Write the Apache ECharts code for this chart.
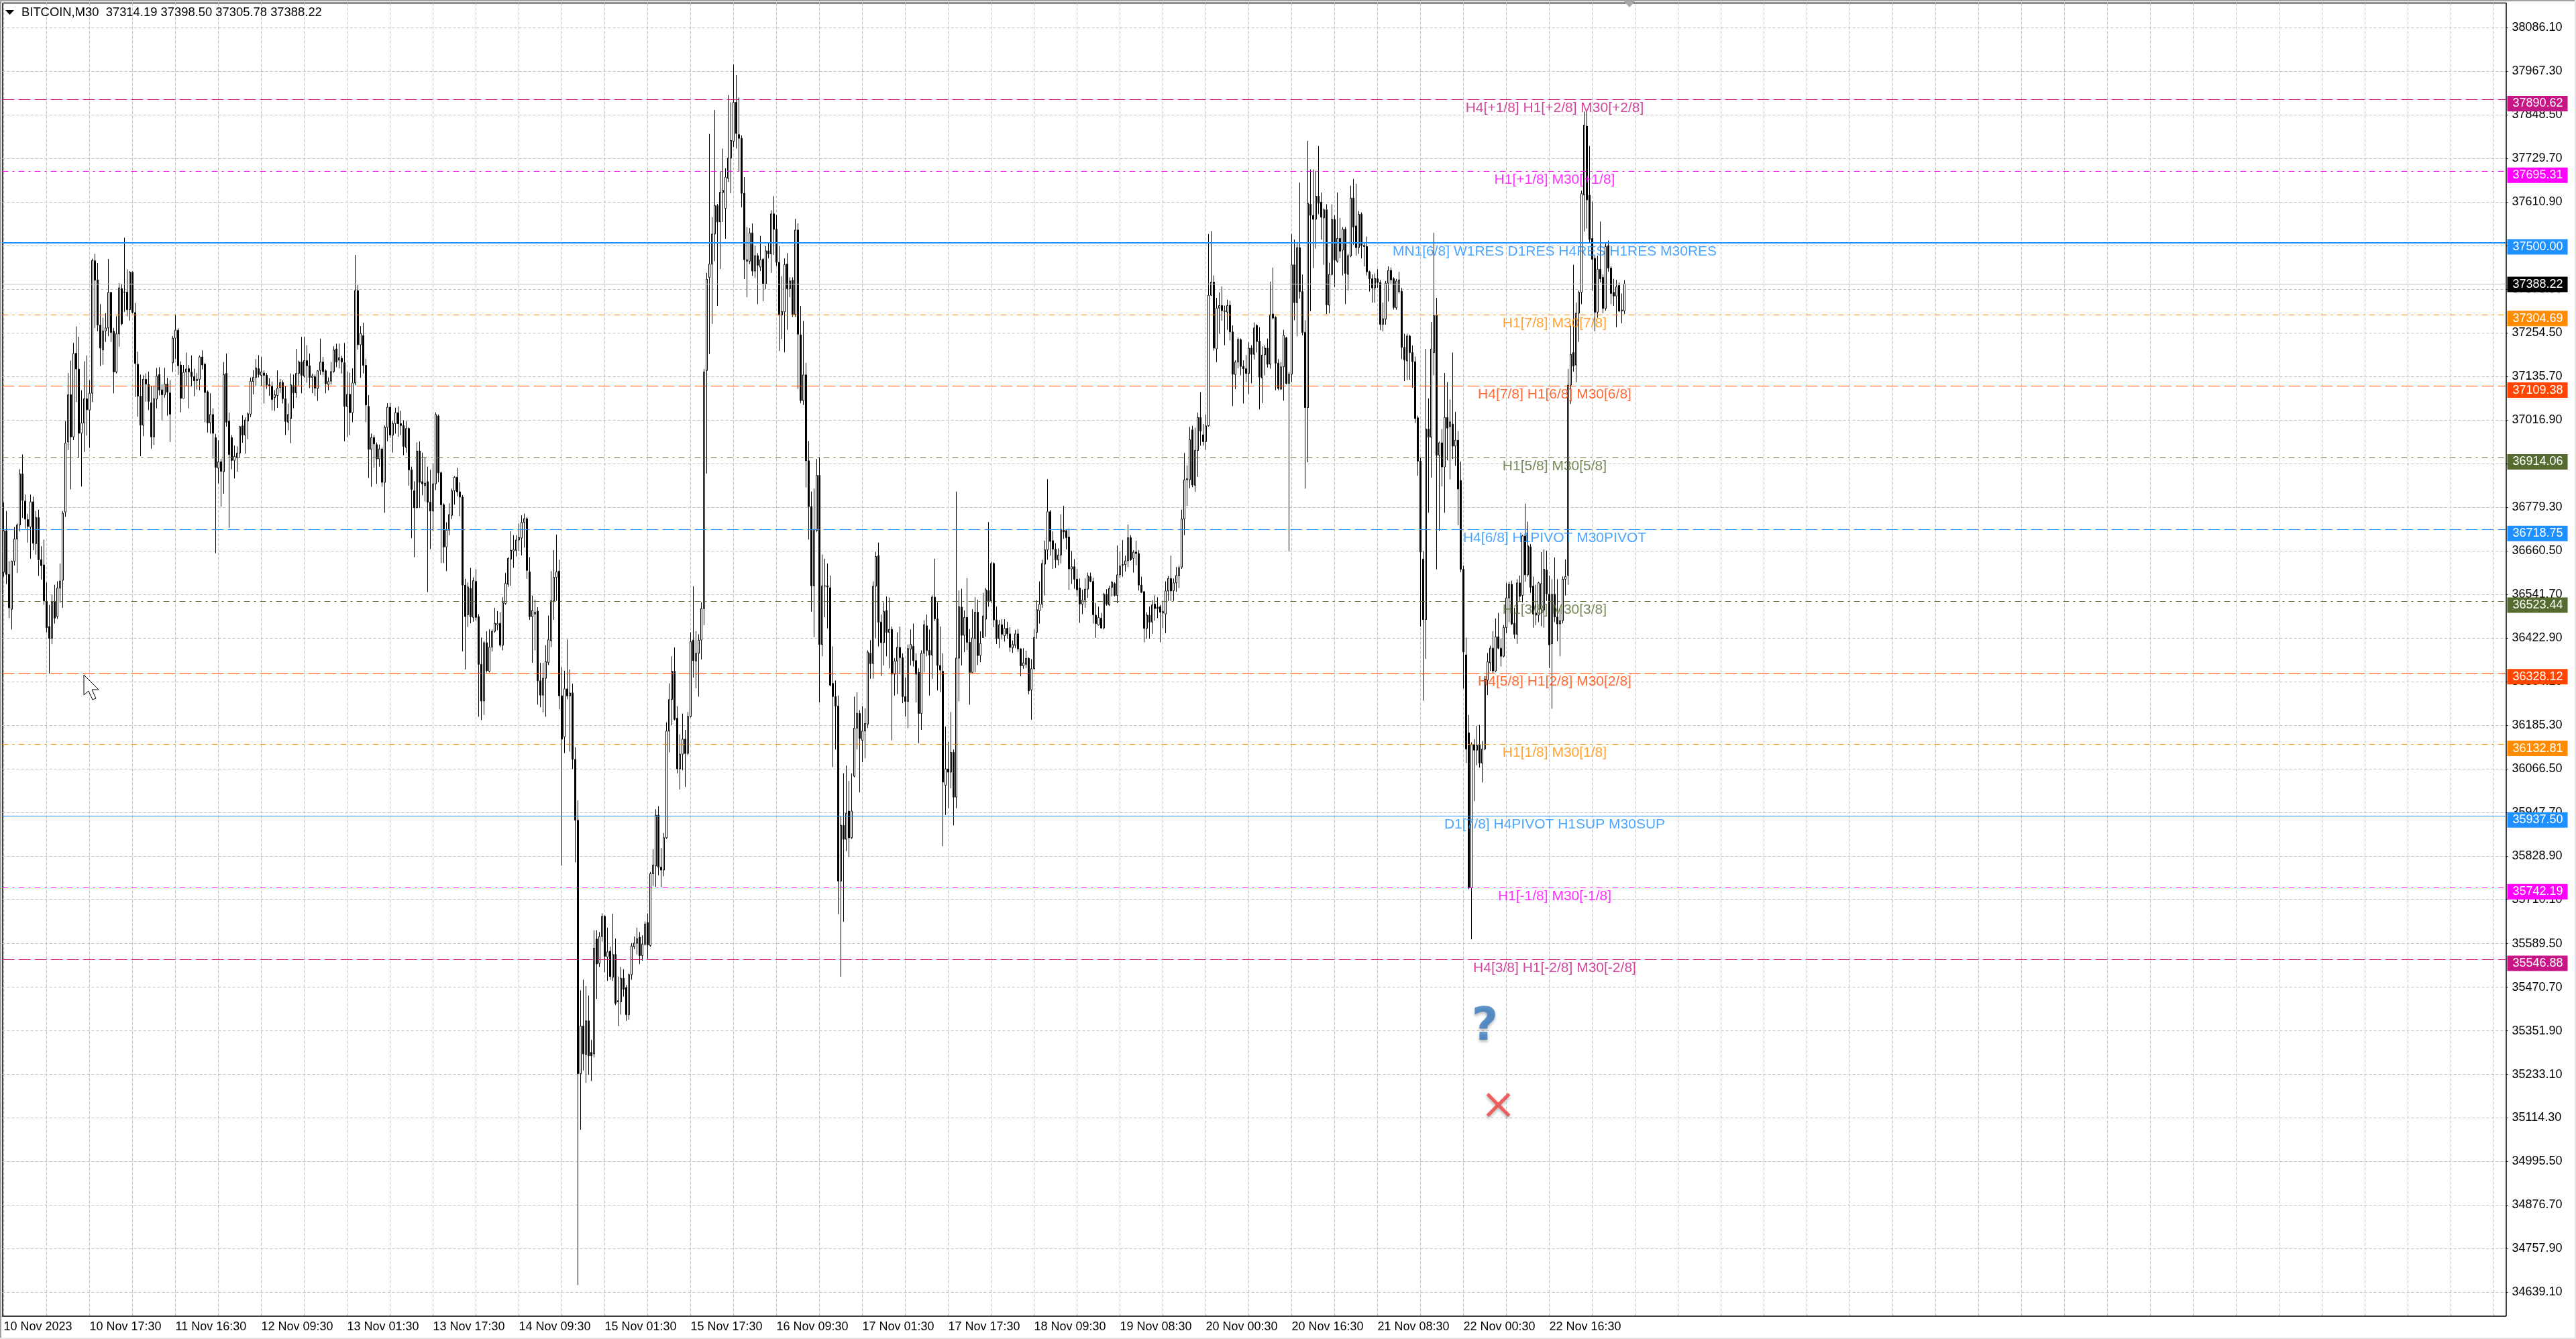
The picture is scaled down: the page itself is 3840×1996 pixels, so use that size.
<!DOCTYPE html>
<html>
<head>
<meta charset="utf-8">
<title>BITCOIN,M30</title>
<script src="https://cdn.jsdelivr.net/npm/echarts@6/dist/echarts.min.js"></script>
<style>
	html,body{margin:0;padding:0;background:#fff;}
	#main{width:3840px;height:1996px;}
</style>
</head>
<body>
<div id="main"></div>
<script>
// 30 minute bars
var opens = [
36602,36715,36596,36501,36632,36693,36731,36870,36796,36746,36725,36794,36680,36751,36636,36622,36523,36454,36422,36523,
36481,36559,36580,36766,36957,37086,36971,37199,37156,36981,37009,37075,37044,37090,37451,37399,37276,37208,37260,37268,
37365,37259,37148,37252,37375,37366,37366,37318,37420,37310,37169,37082,37003,37128,37114,37064,36971,37074,37141,37099,
37086,37115,37091,37173,37240,37262,37167,37076,37148,37157,37148,37135,37124,37128,37189,37169,37094,37009,37032,36969,
36886,36903,36876,37144,37014,36969,36907,36914,36927,37001,36976,37014,37033,37122,37133,37157,37139,37145,37139,37113,
37110,37078,37084,37106,37119,37075,37011,37021,37111,37091,37144,37175,37137,37179,37165,37133,37135,37103,37152,37175,
37151,37114,37123,37149,37211,37180,37185,37173,37054,37087,37037,37118,37370,37222,37247,37166,37054,36937,36969,36950,
36911,36938,36847,36997,37052,36976,37007,37037,37007,37002,36942,36994,36881,36824,36778,36933,36849,36838,36849,36793,
36769,36843,37028,36873,36786,36671,36717,36757,36824,36861,36821,36807,36567,36486,36558,36479,36577,36481,36351,36251,
36410,36332,36398,36441,36458,36463,36403,36517,36569,36638,36660,36662,36690,36695,36738,36748,36603,36481,36488,36496,
36306,36267,36313,36356,36415,36524,36588,36605,36265,36153,36284,36265,36273,36092,35926,35235,35365,35287,35379,35293,
35289,35602,35536,35609,35664,35553,35569,35498,35560,35431,35431,35495,35470,35396,35505,35581,35591,35607,35557,35588,
35647,35584,35780,35801,35940,35798,35790,35878,36169,36255,36332,36204,36066,36106,36147,36108,36209,36417,36360,36381,
36417,36503,37152,37406,37442,37524,37601,37557,37637,37594,37676,37731,37777,37883,37795,37785,37635,37450,37450,37527,
37423,37465,37434,37455,37388,37478,37470,37579,37537,37447,37303,37312,37442,37375,37398,37305,37535,37249,37070,37140,
36906,36781,36565,36716,36866,36405,36564,36565,36560,36299,36263,36237,35760,35912,35874,35951,35878,36046,36177,36217,
36144,36169,36188,36381,36353,36564,36647,36466,36410,36498,36438,36446,36324,36360,36397,36369,36263,36250,36392,36400,
36361,36329,36217,36381,36456,36389,36376,36534,36475,36348,36332,36021,36066,36057,36111,35989,36368,36507,36430,36479,
36411,36329,36421,36493,36375,36424,36474,36552,36524,36626,36472,36421,36459,36429,36449,36434,36396,36403,36434,36393,
36347,36351,36367,36281,36339,36438,36497,36515,36624,36663,36767,36688,36665,36636,36649,36717,36715,36698,36611,36617,
36583,36559,36515,36526,36556,36590,36577,36485,36458,36477,36450,36542,36513,36561,36571,36539,36595,36621,36623,36633,
36696,36640,36657,36653,36567,36549,36449,36485,36466,36515,36507,36508,36491,36488,36551,36585,36552,36573,36592,36616,
36747,36854,36854,36990,36839,36934,37024,36977,36958,37001,37357,37393,37211,37322,37329,37314,37311,37330,37257,37141,
37175,37236,37163,37157,37144,37213,37196,37275,37232,37132,37195,37213,37169,37306,37297,37172,37101,37162,37241,37117,
37142,37440,37337,37487,37367,37256,37051,37605,37575,37564,37627,37611,37568,37590,37330,37414,37564,37450,37512,37480,
37537,37414,37464,37622,37546,37487,37578,37490,37490,37421,37402,37377,37402,37392,37278,37292,37390,37425,37402,37323,
37367,37368,37215,37178,37246,37201,37176,37023,36905,36638,36473,36992,36970,37201,37302,36921,36955,36889,37024,36999,
37006,36946,36962,36852,36610,36377,36164,35742,36132,36117,36132,36082,36120,36308,36355,36395,36333,36426,36395,36373,
36451,36532,36569,36463,36433,36573,36539,36701,36595,36671,36564,36485,36485,36502,36499,36608,36542,36407,36542,36480,
36461,36470,36583,36593,37112,37201,37167,37308,37365,37631,37818,37630,37512,37458,37311,37428,37406,37321,37492,37431,
37365,37355,37384,37314,37314.19
];
var closes = [
36715,36596,36505,36632,36693,36731,36870,36798,36747,36727,36794,36681,36751,36636,36620,36524,36451,36422,36521,36477,
36559,36578,36763,36954,37086,36971,37198,37156,36981,37009,37075,37045,37090,37452,37398,37276,37213,37260,37268,37365,
37256,37148,37252,37377,37279,37365,37318,37420,37310,37171,37082,37003,37128,37115,37068,36971,37075,37137,37099,37086,
37115,37093,37033,37240,37262,37165,37076,37147,37156,37148,37135,37124,37128,37189,37167,37092,37009,37032,36981,36888,
36903,36877,37141,37011,36923,36907,36918,36927,36999,36976,37017,37034,37123,37133,37159,37141,37148,37139,37113,37110,
37073,37086,37104,37119,37075,37013,37032,37113,37091,37144,37175,37139,37179,37165,37133,37137,37104,37151,37175,37149,
37116,37122,37149,37208,37175,37187,37175,37054,37087,37037,37118,37370,37222,37253,37166,37058,36937,36969,36952,36911,
36938,36847,36997,37052,36976,37007,37037,37007,37002,36945,36994,36881,36828,36778,36933,36847,36843,36845,36793,36769,
36843,37032,36873,36786,36671,36717,36759,36824,36861,36821,36807,36567,36481,36562,36481,36579,36479,36351,36251,36410,
36334,36398,36441,36463,36462,36403,36519,36572,36640,36662,36664,36690,36697,36738,36748,36607,36481,36498,36493,36306,
36267,36313,36358,36418,36524,36588,36603,36265,36147,36284,36265,36273,36092,35926,35235,35365,35289,35379,35284,35284,
35577,35534,35609,35664,35555,35567,35500,35560,35427,35434,35495,35465,35396,35505,35583,35591,35603,35557,35588,35643,
35586,35780,35804,35940,35798,35790,35878,36169,36255,36332,36201,36066,36106,36147,36108,36209,36413,36361,36381,36417,
36503,37148,37401,37442,37524,37602,37557,37638,37643,37679,37731,37779,37883,37798,37785,37635,37454,37454,37527,37423,
37465,37439,37454,37388,37478,37470,37579,37537,37447,37303,37313,37441,37375,37396,37305,37535,37251,37070,37140,36906,
36781,36565,36716,36866,36405,36565,36565,36562,36294,36263,36237,35760,35912,35874,35945,35878,35951,36177,36217,36149,
36169,36190,36384,36353,36564,36645,36466,36410,36495,36438,36446,36324,36360,36397,36369,36263,36250,36394,36405,36361,
36324,36217,36381,36459,36389,36376,36534,36475,36348,36335,36030,36066,36057,36111,35989,36368,36508,36430,36479,36411,
36329,36423,36493,36375,36408,36483,36554,36524,36626,36472,36421,36459,36433,36449,36434,36397,36405,36434,36393,36347,
36355,36367,36279,36339,36424,36500,36515,36626,36663,36767,36686,36665,36636,36649,36719,36712,36696,36611,36617,36583,
36554,36515,36526,36556,36592,36577,36486,36462,36479,36450,36542,36515,36558,36575,36539,36595,36619,36623,36633,36696,
36636,36657,36653,36567,36547,36449,36485,36466,36513,36503,36503,36493,36495,36551,36585,36551,36573,36593,36614,36747,
36854,36857,36963,36840,36934,37024,36987,36958,37001,37357,37393,37213,37322,37329,37315,37313,37329,37257,37142,37175,
37237,37163,37157,37144,37213,37196,37268,37231,37134,37194,37213,37169,37304,37295,37172,37103,37162,37248,37117,37142,
37440,37337,37487,37367,37256,37051,37608,37575,37564,37627,37608,37570,37590,37331,37414,37564,37453,37512,37477,37537,
37417,37465,37622,37543,37487,37578,37493,37493,37421,37402,37377,37403,37392,37278,37293,37390,37425,37399,37324,37396,
37399,37215,37181,37246,37201,37176,37021,36905,36657,36473,36992,36970,37211,37302,36921,36955,36889,37024,36995,37012,
36946,36962,36829,36610,36385,36120,35742,36132,36117,36130,36082,36120,36311,36358,36395,36333,36426,36395,36373,36451,
36532,36569,36461,36433,36573,36536,36701,36595,36674,36561,36488,36491,36573,36571,36610,36543,36404,36542,36480,36461,
36470,36583,36590,37112,37196,37164,37308,37365,37634,37821,37617,37509,37455,37311,37428,37402,37321,37490,37431,37362,
37355,37380,37314,37317,37388.22
];
var lows = [
36590,36570,36477,36446,36620,36600,36713,36750,36721,36683,36639,36662,36650,36592,36582,36513,36438,36326,36406,36462,
36475,36519,36505,36753,36935,36828,36962,37066,36914,36836,36930,36975,36941,37066,37268,37259,37164,37168,37230,37246,
37230,37090,37144,37217,37275,37312,37300,37288,37308,37080,37026,36918,36973,37067,37044,36939,36949,37049,37084,37016,
37078,37029,36957,37148,37183,37140,37038,37076,37110,37049,37108,37082,37100,37098,37155,37011,36983,36980,36917,36654,
36844,36781,36816,36999,36723,36883,36858,36876,36914,36955,36925,36965,37025,37087,37111,37133,37110,37062,37102,37083,
37043,37042,37050,37091,37062,36976,36989,36954,37049,37078,37111,37090,37132,37119,37104,37090,37083,37069,37140,37139,
37090,37098,37114,37146,37161,37158,37144,36959,36971,36976,37011,37112,37209,37132,37144,37011,36859,36835,36887,36843,
36890,36835,36764,36959,36968,36928,36980,36971,36976,36921,36928,36838,36695,36643,36776,36778,36812,36795,36548,36665,
36714,36826,36847,36627,36627,36605,36703,36747,36786,36809,36755,36386,36337,36453,36463,36467,36470,36208,36199,36213,
36329,36329,36386,36437,36444,36398,36389,36514,36562,36565,36614,36645,36660,36648,36669,36584,36472,36355,36389,36241,
36234,36220,36208,36349,36398,36472,36524,36229,35802,36109,36256,36113,36066,35811,34659,35082,35244,35210,35232,35215,
35279,35439,35526,35595,35512,35488,35491,35488,35422,35365,35396,35445,35379,35382,35491,35574,35560,35534,35543,35584,
35548,35581,35747,35744,35776,35744,35773,35875,36111,36185,36198,36054,36010,36062,36017,36103,36206,36315,36286,36263,
36364,36458,36871,37197,37279,37450,37328,37429,37557,37511,37666,37635,37761,37757,37695,37597,37401,37352,37442,37410,
37405,37333,37423,37341,37374,37458,37418,37467,37437,37205,37238,37202,37263,37352,37298,37298,37102,37063,37058,36833,
36691,36495,36425,36712,36247,36373,36479,36449,36291,36071,36119,35670,35499,35649,35842,35826,35875,36043,36119,36002,
36084,36095,36177,36312,36312,36422,36400,36319,36348,36373,36340,36144,36266,36270,36324,36245,36209,36177,36348,36345,
36247,36136,36172,36329,36373,36266,36311,36469,36280,36275,35855,35940,35959,36013,35912,35959,36250,36348,36384,36390,
36241,36327,36329,36349,36357,36423,36426,36508,36518,36452,36406,36395,36419,36413,36421,36385,36382,36395,36385,36318,
36339,36341,36269,36200,36337,36421,36462,36505,36539,36636,36647,36611,36613,36621,36626,36693,36664,36554,36570,36557,
36537,36464,36488,36505,36532,36575,36462,36423,36457,36448,36446,36511,36510,36536,36536,36518,36587,36590,36604,36616,
36633,36601,36621,36552,36546,36411,36421,36421,36434,36470,36477,36411,36450,36436,36524,36524,36524,36549,36559,36611,
36703,36783,36831,36834,36821,36862,36947,36947,36936,36999,37355,37206,37175,37252,37288,37221,37263,37234,37055,37101,
37158,37139,37062,37121,37088,37117,37182,37201,37046,37063,37139,37160,37157,37291,37098,37098,37100,37070,37114,36659,
37120,37289,37245,37348,37248,36830,36902,37314,37431,37484,37578,37509,37440,37306,37308,37411,37380,37446,37458,37411,
37333,37370,37461,37495,37465,37470,37458,37436,37411,37367,37337,37337,37377,37262,37259,37277,37340,37389,37318,37318,
37362,37183,37123,37127,37127,37105,37009,36865,36454,36252,36366,36764,36860,37139,36610,36715,36836,36764,36907,36855,
36911,36892,36730,36602,36285,36082,35738,35601,35978,36076,36069,36029,36117,36267,36333,36326,36330,36392,36345,36370,
36436,36466,36458,36421,36407,36524,36520,36576,36590,36546,36451,36458,36466,36455,36451,36524,36341,36230,36466,36414,
36373,36463,36539,36568,37061,37149,37120,37230,37333,37531,37539,37502,37370,37259,37296,37392,37308,37315,37421,37333,
37328,37270,37311,37281,37305.78
];
var highs = [
36792,36769,36632,36634,36725,36735,36883,36923,36814,36761,36814,36808,36769,36773,36673,36691,36574,36513,36541,36568,
36577,36626,36769,37014,37145,37179,37227,37272,37244,37098,37177,37193,37125,37457,37470,37445,37333,37296,37308,37456,
37365,37268,37300,37390,37387,37514,37428,37423,37422,37336,37203,37141,37139,37144,37149,37111,37111,37159,37161,37114,
37159,37132,37125,37246,37304,37267,37177,37167,37201,37167,37193,37157,37145,37193,37207,37173,37098,37090,37049,36979,
36961,36911,37175,37198,37037,36976,36947,36945,37001,37030,37024,37038,37133,37153,37183,37194,37189,37152,37145,37131,
37122,37098,37152,37129,37125,37110,37062,37144,37141,37211,37179,37244,37244,37221,37198,37143,37141,37153,37239,37189,
37155,37133,37175,37218,37225,37225,37192,37227,37149,37146,37158,37467,37385,37273,37282,37184,37085,36980,36976,36956,
36950,36942,37002,37063,37063,37014,37051,37054,37042,37016,37014,36997,36890,36850,36956,36959,36928,36916,36890,36881,
36899,37038,37032,36876,36790,36738,36790,36830,36864,36887,36847,36812,36584,36574,36614,36588,36610,36488,36424,36415,
36441,36446,36446,36505,36496,36493,36534,36600,36643,36714,36703,36703,36735,36757,36762,36752,36643,36539,36527,36507,
36355,36355,36403,36484,36605,36662,36705,36636,36343,36334,36419,36337,36298,36125,35980,35462,35491,35474,35448,35327,
35626,35626,35621,35672,35667,35633,35581,35671,35603,35500,35526,35520,35477,35508,35591,35609,35633,35621,35612,35650,
35672,35785,35847,35956,35964,35850,35891,36193,36299,36373,36397,36237,36160,36217,36172,36221,36438,36564,36441,36433,
36520,37156,37418,37797,37570,37862,37606,37695,37757,37703,37903,37883,37986,37957,37896,37793,37679,37543,37540,37553,
37491,37472,37519,37458,37491,37499,37589,37627,37576,37491,37409,37458,37472,37406,37406,37565,37553,37328,37287,37173,
36960,36822,36830,36911,36916,36650,36639,36626,36593,36400,36307,36266,35937,36054,36075,36033,36054,36263,36275,36226,
36237,36231,36389,36417,36577,36658,36683,36487,36520,36536,36533,36454,36368,36438,36454,36381,36315,36405,36446,36462,
36381,36340,36389,36471,36487,36446,36539,36639,36520,36454,36381,36181,36139,36221,36119,36822,36552,36557,36498,36586,
36447,36501,36534,36527,36441,36546,36559,36739,36631,36629,36508,36472,36474,36474,36467,36452,36416,36445,36447,36395,
36395,36388,36370,36365,36447,36526,36577,36636,36688,36856,36772,36713,36681,36667,36760,36783,36719,36721,36660,36638,
36611,36585,36554,36585,36601,36601,36587,36518,36508,36491,36546,36556,36565,36578,36575,36675,36659,36690,36647,36732,
36703,36662,36688,36662,36590,36551,36493,36508,36526,36539,36534,36513,36524,36577,36592,36647,36585,36616,36620,36773,
36927,36893,36998,37001,36996,37037,37093,37006,37032,37524,37532,37411,37350,37365,37381,37329,37345,37342,37275,37180,
37242,37239,37180,37194,37229,37221,37283,37278,37270,37218,37221,37239,37394,37432,37300,37183,37175,37263,37244,37148,
37524,37509,37502,37664,37414,37289,37778,37700,37700,37696,37764,37637,37594,37605,37446,37605,37575,37637,37568,37543,
37543,37470,37656,37674,37661,37587,37583,37502,37517,37424,37414,37417,37428,37399,37337,37396,37436,37433,37406,37402,
37421,37377,37252,37252,37249,37220,37190,37029,36914,36660,37211,37076,37284,37527,37350,36958,36992,37145,37120,37073,
37201,37039,36987,36904,36620,36424,36213,36138,36147,36183,36186,36142,36319,36382,36402,36441,36476,36491,36421,36458,
36573,36576,36579,36505,36583,36593,36704,36789,36740,36679,36590,36568,36576,36657,36664,36661,36593,36583,36642,36583,
36505,36590,36637,37156,37274,37440,37337,37370,37642,37858,37858,37764,37612,37465,37465,37558,37414,37502,37506,37436,
37402,37399,37392,37362,37398.50
];

// band count of the time axis, one band per 30 minute bar (most of them still empty)
var slotCount = 933;
var slots = [];
for (var s = 0; s < slotCount; s++) {
	slots.push(s);
}

var timeLabels = ['10 Nov 2023','10 Nov 17:30','11 Nov 16:30','12 Nov 09:30','13 Nov 01:30','13 Nov 17:30','14 Nov 09:30',
	'15 Nov 01:30','15 Nov 17:30','16 Nov 09:30','17 Nov 01:30','17 Nov 17:30','18 Nov 09:30','19 Nov 08:30','20 Nov 00:30',
	'20 Nov 16:30','21 Nov 08:30','22 Nov 00:30','22 Nov 16:30'];

var priceTicks = [38086.10,37967.30,37848.50,37729.70,37610.90,37492.10,37373.30,37254.50,37135.70,37016.90,36898.10,
	36779.30,36660.50,36541.70,36422.90,36304.10,36185.30,36066.50,35947.70,35828.90,35710.10,35589.50,35470.70,35351.90,
	35233.10,35114.30,34995.50,34876.70,34757.90,34639.10];

var levelValues = [37890.62,37695.31,37500.00,37388.22,37304.69,37109.38,36914.06,36718.75,36523.44,36328.12,36132.81,35937.50,35742.19,35546.88];
var levelNames = ['H4[+1/8] H1[+2/8] M30[+2/8]','H1[+1/8] M30[+1/8]','MN1[6/8] W1RES D1RES H4RES H1RES M30RES','',
	'H1[7/8] M30[7/8]','H4[7/8] H1[6/8] M30[6/8]','H1[5/8] M30[5/8]','H4[6/8] H1PIVOT M30PIVOT','H1[3/8] M30[3/8]',
	'H4[5/8] H1[2/8] M30[2/8]','H1[1/8] M30[1/8]','D1[7/8] H4PIVOT H1SUP M30SUP','H1[-1/8] M30[-1/8]','H4[3/8] H1[-2/8] M30[-2/8]'];

var levelColors = ['#c71585','#ff00ff','#1e90ff','#000000','#ff8c00','#ff4500','#556b2f','#1e90ff','#556b2f','#ff4500','#ff8c00','#1e90ff','#ff00ff','#c71585'];
var dash = [18,6], dashDot = [9,6,3,6];
var levelDash = [dash,dashDot,'solid','solid',dashDot,dash,dashDot,dash,dashDot,dash,dashDot,'solid',dashDot,dash];
var levelWidth = [1,1,2,1,1,1,1,1,1,1,1,1,1,1];

var font = 'Liberation Sans';

var candleData = [];
for (var i = 0; i < opens.length; i++) {
	candleData.push([opens[i],closes[i],lows[i],highs[i]]);
}

var lineData = [];
var nameData = [];
for (var k = 0; k < levelValues.length; k++) {
	var isBid = levelColors[k] === '#000000';
	lineData.push({
		yAxis: levelValues[k],
		lineStyle: {
			color: isBid ? '#c0c0c0' : levelColors[k],
			type: levelDash[k],
			width: levelWidth[k]
		},
		label: {
			show: true,
			position: 'end',
			distance: 2,
			offset: [0, isBid ? 1 : 6],
			formatter: levelValues[k].toFixed(2),
			color: '#fff',
			backgroundColor: levelColors[k],
			fontFamily: font,
			fontSize: 18,
			lineHeight: 23,
			padding: [0,7,0,8]
		}
	});
	if (levelNames[k]) {
		nameData.push({
			value: [578, levelValues[k]],
			label: {color: levelColors[k], formatter: levelNames[k]}
		});
	}
}

var option = {
	animation: false,
	backgroundColor: '#fff',
	title: {
		text: 'BITCOIN,M30  37314.19 37398.50 37305.78 37388.22',
		left: 32,
		top: 10,
		padding: 0,
		textStyle: {fontFamily: font, fontSize: 18.4, fontWeight: 'normal', color: '#000'}
	},
	grid: {left: 3.5, top: 4.5, width: 3732, height: 1957},
	xAxis: {
		type: 'category',
		data: slots,
		boundaryGap: true,
		axisLine: {lineStyle: {color: '#000', width: 1.5}},
		axisTick: {alignWithLabel: true, interval: 31, length: 3, lineStyle: {color: '#000'}},
		axisLabel: {
			interval: 31,
			align: 'left',
			margin: 8,
			fontFamily: font,
			fontSize: 18,
			color: '#000',
			formatter: function(v, idx){
				return timeLabels[idx / 32] || '';
			}
		},
		splitLine: {
			show: true,
			alignWithLabel: true,
			interval: 15,
			lineStyle: {color: '#c0c0c0', type: [4,3], width: 1}
		}
	},
	yAxis: {
		type: 'value',
		position: 'right',
		min: 34574.8,
		max: 38153.8,
		axisLine: {show: true, lineStyle: {color: '#000', width: 1.5}},
		axisTick: {show: true, customValues: priceTicks, length: 3, lineStyle: {color: '#000'}},
		axisLabel: {
			customValues: priceTicks,
			margin: 9,
			padding: [4,0,0,0],
			fontFamily: font,
			fontSize: 18,
			color: '#000',
			formatter: function(v){
				return v.toFixed(2);
			}
		},
		splitLine: {show: true, lineStyle: {color: '#c0c0c0', type: [4,3], width: 1}}
	},
	series: [
		{
			type: 'line',
			z: 2,
			data: [],
			silent: true,
			markLine: {
				silent: true,
				animation: false,
				symbol: 'none',
				data: lineData
			}
		},
		{
			type: 'candlestick',
			z: 3,
			large: false,
			barWidth: 2,
			progressive: 0,
			data: candleData,
			itemStyle: {
				color: '#ffffff',
				color0: '#000000',
				borderColor: '#000000',
				borderColor0: '#000000',
				borderWidth: 1
			}
		},
		{
			type: 'scatter',
			z: 4,
			silent: true,
			symbolSize: 1,
			itemStyle: {color: 'transparent'},
			label: {
				show: true,
				position: 'inside',
				offset: [0, 13],
				fontFamily: font,
				fontSize: 21
			},
			data: nameData
		},
		{
			type: 'scatter',
			z: 5,
			silent: true,
			symbolSize: 1,
			itemStyle: {color: 'transparent'},
			label: {
				show: true,
				position: 'inside',
				formatter: '?',
				fontFamily: 'DejaVu Sans',
				fontWeight: 'bold',
				fontSize: 68,
				color: '#3a7dbf',
				textShadowColor: 'rgba(0,0,0,0.35)',
				textShadowBlur: 4,
				textShadowOffsetY: 3
			},
			data: [[552, 35360]]
		},
		{
			type: 'scatter',
			z: 5,
			silent: true,
			symbol: 'path://M0 3L3 0L15 12L27 0L30 3L18 15L30 27L27 30L15 18L3 30L0 27L12 15Z',
			symbolSize: 36,
			itemStyle: {color: '#f24040', shadowColor: 'rgba(0,0,0,0.35)', shadowBlur: 4, shadowOffsetY: 3},
			data: [[557, 35150]]
		}
	],
	graphic: [
		{type: 'rect', shape: {x: 0, y: 0, width: 3840, height: 2}, style: {fill: '#a0a0a0'}},
		{type: 'rect', shape: {x: 0, y: 0, width: 2, height: 1996}, style: {fill: '#a0a0a0'}},
		{type: 'rect', shape: {x: 0, y: 1994, width: 3840, height: 2}, style: {fill: '#e4e4e4'}},
		{type: 'rect', shape: {x: 3838, y: 0, width: 2, height: 1996}, style: {fill: '#e4e4e4'}},
		{type: 'line', shape: {x1: 4, y1: 4.5, x2: 4, y2: 1961.5}, style: {stroke: '#000', lineWidth: 1.5}},
		{type: 'line', shape: {x1: 4, y1: 4.5, x2: 3736, y2: 4.5}, style: {stroke: '#000', lineWidth: 1.5}},
		{type: 'polygon', shape: {points: [[2421,2],[2437,2],[2429,11]]}, style: {fill: '#a8a8a8'}},
		{type: 'polygon', shape: {points: [[8,15],[21,15],[14.5,22]]}, style: {fill: '#000'}},
		// mouse pointer left on the screenshot
		{type: 'polygon', shape: {points: [[125,1006],[125,1036],[132,1030],[138,1043],[143,1041],[137,1028],[147,1028]]},
			style: {fill: '#fff', stroke: '#000', lineWidth: 1}, z: 10}
	]
};

var myChart = echarts.init(document.getElementById('main'), null, {renderer: 'canvas'});
myChart.setOption(option);
</script>
</body>
</html>
